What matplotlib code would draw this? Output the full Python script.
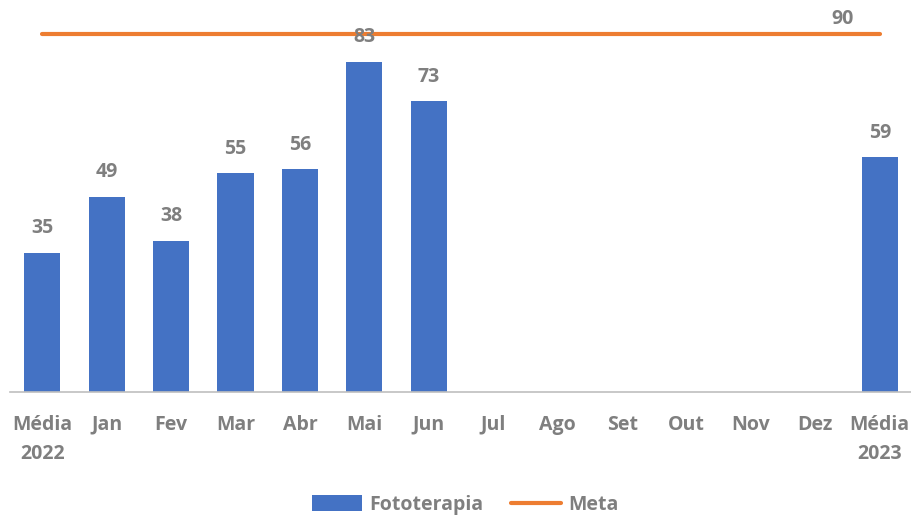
import numpy as np
import matplotlib
matplotlib.use('Agg')
import matplotlib.pyplot as plt

plt.rcParams['font.family'] = ['Open Sans', 'DejaVu Sans']

categories = ['Média\n2022', 'Jan', 'Fev', 'Mar', 'Abr', 'Mai', 'Jun',
              'Jul', 'Ago', 'Set', 'Out', 'Nov', 'Dez', 'Média\n2023']
fototerapia = [35, 49, 38, 55, 56, 83, 73, None, None, None, None, None, None, 59]
meta = [90] * len(categories)

blue = '#4472C4'
orange = '#ED7D31'
gray = '#7F7F7F'

fig = plt.figure(figsize=(9.12, 5.17), dpi=100)
ax = fig.add_axes([0.011, 0.2418, 0.989, 0.7582])

x = np.arange(len(categories))
vals = [v if v is not None else 0 for v in fototerapia]
bars = ax.bar(x, vals, width=0.56, color=blue, zorder=2, label='Fototerapia')
line, = ax.plot(x, meta, color=orange, linewidth=3, solid_capstyle='round', zorder=3, label='Meta')

# rótulos de dados
for xi, v in zip(x, fototerapia):
    if v is None:
        continue
    ax.annotate(str(v), (xi, v), xytext=(0, 10.5), textcoords='offset points',
                ha='center', va='bottom', fontsize=14, fontweight='bold', color=gray)
ax.annotate(str(meta[-1]), (x[-1], meta[-1]), xytext=(-27, 3.5), textcoords='offset points',
            ha='center', va='bottom', fontsize=14, fontweight='bold', color=gray)

ax.set_xlim(-0.5, len(categories) - 0.5)
ax.set_ylim(0, 98.5)
ax.set_xticks(x)
ax.set_xticklabels(categories, fontsize=14, fontweight='bold', color=gray, linespacing=1.6)
ax.tick_params(axis='x', length=0, pad=16.5)
ax.set_yticks([])
for s in ['top', 'right', 'left']:
    ax.spines[s].set_visible(False)
ax.spines['bottom'].set_color('#BFBFBF')
ax.spines['bottom'].set_linewidth(1.2)

leg = fig.legend([bars, line], ['Fototerapia', 'Meta'], loc='center',
                 bbox_to_anchor=(0.51, 0.023), ncol=2, frameon=False,
                 fontsize=14, handlelength=2.6, handleheight=0.9, columnspacing=1.4,
                 handletextpad=0.35)
for t in leg.get_texts():
    t.set_color(gray)
    t.set_fontweight('bold')

fig.savefig('out.png', dpi=100)
